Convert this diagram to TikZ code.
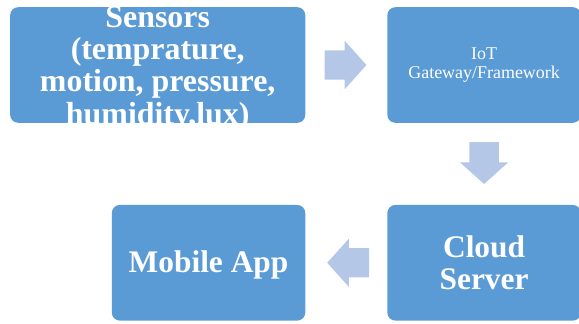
\documentclass[tikz,border=0pt]{standalone}
\usepackage{fontspec}
\setmainfont{Liberation Serif}
\usepackage{xcolor}
\usepackage{tikz}
\usetikzlibrary{positioning, calc, shapes.arrows}

\definecolor{boxblue}{HTML}{5B9BD5}
\definecolor{arrowblue}{HTML}{B4C7E7}

\begin{document}
\begin{tikzpicture}[x=1pt, y=1pt,
  box/.style={fill=boxblue, rounded corners=8pt, text=white, align=center,
    inner sep=0pt, minimum width=194pt, minimum height=116pt},
  big/.style={font=\fontsize{31.5}{33}\selectfont\bfseries},
  flow/.style={single arrow, fill=arrowblue, inner xsep=0pt, inner ysep=14.5pt, anchor=tail,
    minimum height=42pt, single arrow head extend=9.5pt, single arrow tip angle=96}]
  % the four blocks
  \node[box, minimum width=296pt] (sensors) {};
  \node[text=white, align=center, font=\fontsize{32}{32.5}\selectfont\bfseries]
    (sensorstxt) at ([yshift=-3.5pt]sensors.center) {Sensors\\(temprature,\\motion, pressure,\\humidity,lux)};
  \node[box, right=82pt of sensors, font=\fontsize{18}{19}\selectfont] (gateway) {IoT\\Gateway/Framework};
  \node[box, big, below=82pt of gateway] (cloud) {Cloud\\Server};
  \node[box, big, left=82pt of cloud, text height=27pt, text depth=7pt] (mobile) {Mobile App};
  % block arrows in between
  \node[flow] (a1) at ([xshift=19pt]sensors.east) {};
  \node[flow, rotate=-90] (a2) at ([yshift=-19pt]gateway.south) {};
  \node[flow, rotate=180] (a3) at ([xshift=-18pt]cloud.west) {};
  \pgfresetboundingbox
  \useasboundingbox ([shift={(-10pt,7pt)}]sensors.north west) rectangle ([shift={(-2pt,-3pt)}]cloud.south east);
\end{tikzpicture}
\end{document}
